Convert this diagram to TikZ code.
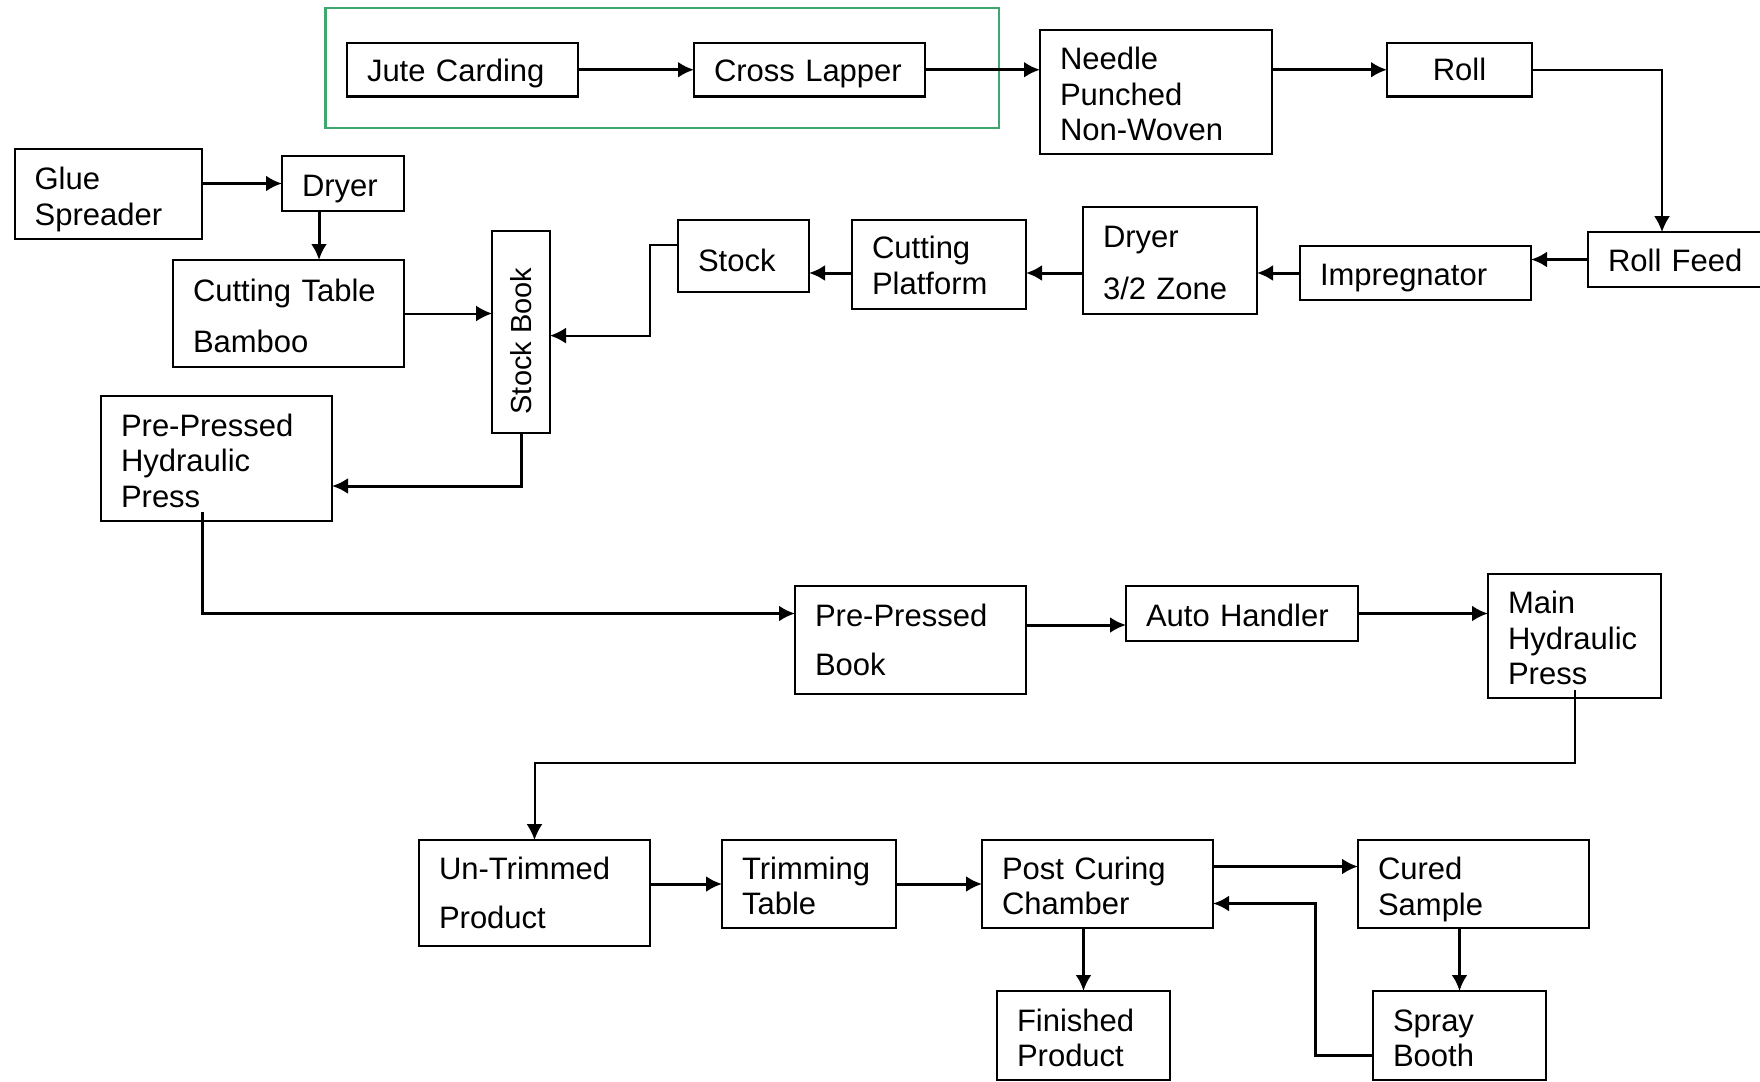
\documentclass[tikz,border=0pt]{standalone}
\usepackage{fontspec}
\setmainfont{Liberation Sans}
\usepackage{graphicx}
\usetikzlibrary{positioning,arrows.meta}
\definecolor{groupgreen}{RGB}{62,166,110}

\begin{document}
\begin{tikzpicture}[>={Latex[length=8pt,width=8pt]}, every node/.style={draw, rectangle, line width=1.1pt, outer sep=0pt, align=left, inner xsep=10pt, inner ysep=2pt, font=\fontsize{15.5}{17.7}\selectfont}, flow/.style={->, line width=1.5pt}, feed/.style={->, line width=1pt}]

\useasboundingbox (0,0) rectangle (880pt,-540.5pt);

  % First row
  \node (jute) [text width=95.5pt, text height=14.6pt, minimum height=26.75pt] at (231.25pt,-34.875pt) {Jute Carding};
  \node (lapper) [right=58pt of jute, text width=95.5pt, text height=14.6pt, minimum height=26.75pt] {Cross Lapper};
  \node (needle) [right=57.5pt of lapper, yshift=-11.125pt, text width=96pt, text height=13.4pt, minimum height=62pt] {Needle\\Punched\\Non-Woven};
  \node (roll) [right=57.5pt of needle, yshift=11.125pt, text width=52.5pt, align=center, minimum height=26.75pt] {Roll};

  \draw[groupgreen, line width=1.2pt] ([xshift=-10.75pt,yshift=17.5pt]jute.north west) rectangle ([xshift=37pt,yshift=-15.75pt]lapper.south east);

  \draw[flow] (jute) -- (lapper);
  \draw[flow] (lapper.east) -- (lapper.east -| needle.west);
  \draw[flow] (needle.east |- roll) -- (roll.west);

  % Second row, running back to the left
  \node (rollfeed) [below right=67.75pt and 28pt of roll, text width=95.5pt, text height=12.3pt, minimum height=27.5pt] {Roll Feed};
  \node (impreg) [left=28.5pt of rollfeed, yshift=-6.75pt, text width=95.5pt, text height=15.7pt, minimum height=27pt] {Impregnator};
  \node (dryerzone) [left=21.5pt of impreg, yshift=6.25pt, text width=67pt, text height=13.4pt, minimum height=53.5pt] {Dryer\\[8.5pt]3/2 Zone};
  \node (platform) [left=28.5pt of dryerzone, yshift=-2pt, text width=67pt, text height=12.3pt, minimum height=44.5pt] {Cutting\\Platform};
  \node (stock) [left=21.5pt of platform, yshift=4.25pt, text width=45.5pt, text height=15.7pt, minimum height=36pt] {Stock};
  \node (stockbook) [left=64pt of stock, yshift=-38pt, inner sep=0pt, minimum width=29pt, minimum height=101pt, font=\fontsize{14.5}{17}\selectfont] {\rotatebox{90}{Stock Book\hspace{9pt}}};

  \draw[feed] (roll.east) -| ([xshift=37pt]rollfeed.north west);
  \draw[flow] (rollfeed.west) -- (rollfeed.west -| impreg.east);
  \draw[flow] (impreg.west) -- (impreg.west -| dryerzone.east);
  \draw[flow] (dryerzone.west |- impreg) -- (platform.east |- impreg);
  \draw[flow] (platform.west |- impreg) -- (stock.east |- impreg);
  \draw[feed] ([yshift=-12.35pt]stock.north west) -- ++(-14pt,0) |- ([yshift=-1.8pt]stockbook.east);

  % Bamboo side
  \node (cuttable) [left=44pt of stockbook, yshift=9.25pt, text width=95.5pt, text height=13.4pt, minimum height=53.5pt] {Cutting Table\\[8pt]Bamboo};
  \node (dryer) [above=24.5pt of cuttable, xshift=27.25pt, text width=41pt, text height=16.7pt, minimum height=27.5pt] {Dryer};
  \node (glue) [left=40pt of dryer, yshift=-5.25pt, text width=73.7pt, text height=16.9pt, minimum height=45pt] {Glue\\Spreader};
  \node (prepress) [below=14.5pt of cuttable, xshift=-36pt, text width=95.5pt, text height=13.4pt, minimum height=62.5pt] {Pre-Pressed\\Hydraulic\\Press};

  \draw[flow] (glue.east |- dryer) -- (dryer.west);
  \draw[flow] ([xshift=-12pt]dryer.south) -- ([xshift=-12pt]dryer.south |- cuttable.north);
  \draw[feed] (cuttable.east) -- (cuttable.east -| stockbook.west);
  \draw[flow] (stockbook.south) |- ([yshift=-13.75pt]prepress.east);

  % Pressing
  \node (ppbook) [right=231.5pt of prepress, yshift=-90.75pt, text width=95.5pt, minimum height=54pt] {Pre-Pressed\\[6.5pt]Book};
  \node (handler) [right=50pt of ppbook, yshift=13.25pt, text width=96pt, text height=13.4pt, minimum height=27.5pt] {Auto Handler};
  \node (mainpress) [right=65pt of handler, yshift=-11.25pt, text width=66.5pt, text height=13.4pt, minimum height=62pt] {Main\\Hydraulic\\Press};

  \draw[flow] ([xshift=-7.25pt,yshift=4.5pt]prepress.south) |- (ppbook.west |- handler);
  \draw[flow] ([yshift=-5.75pt]handler.west -| ppbook.east) -- ([yshift=-5.75pt]handler.west);
  \draw[flow] (handler.east) -- (handler.east -| mainpress.west);

  % Finishing
  \node (untrimmed) [below=73pt of ppbook, xshift=-188pt, text width=95.5pt, minimum height=53pt] {Un-Trimmed\\[6.5pt]Product};
  \node (trimming) [right=36pt of untrimmed, yshift=4.5pt, text width=67pt, text height=13.4pt, minimum height=44pt] {Trimming\\Table};
  \node (curing) [right=43pt of trimming, text width=95.5pt, text height=13.4pt, minimum height=44pt] {Post Curing\\Chamber};
  \node (cured) [right=72.5pt of curing, text width=95.5pt, text height=16.8pt, minimum height=44pt] {Cured\\Sample};
  \node (finished) [below=31.5pt of curing, xshift=-7pt, text width=66.5pt, text height=13.4pt, minimum height=44.5pt] {Finished\\Product};
  \node (spray) [below=31.5pt of cured, xshift=-7pt, text width=66.5pt, text height=13.4pt, minimum height=44.5pt] {Spray\\Booth};

  \draw[feed] ([yshift=4pt]mainpress.south) -- ++(0,-36.5pt) -| (untrimmed.north);
  \draw[flow] (untrimmed.east |- trimming) -- (trimming.west);
  \draw[flow] (trimming) -- (curing);
  \draw[flow] ([yshift=8.75pt]curing.east) -- ([yshift=8.75pt]cured.west);
  \draw[flow] ([yshift=-9.75pt]spray.west) -- ++(-28.75pt,0) |- ([yshift=-9.75pt]curing.east);
  \draw[flow] (finished.north |- curing.south) -- (finished.north);
  \draw[flow] (spray.north |- cured.south) -- (spray.north);

\end{tikzpicture}
\end{document}
